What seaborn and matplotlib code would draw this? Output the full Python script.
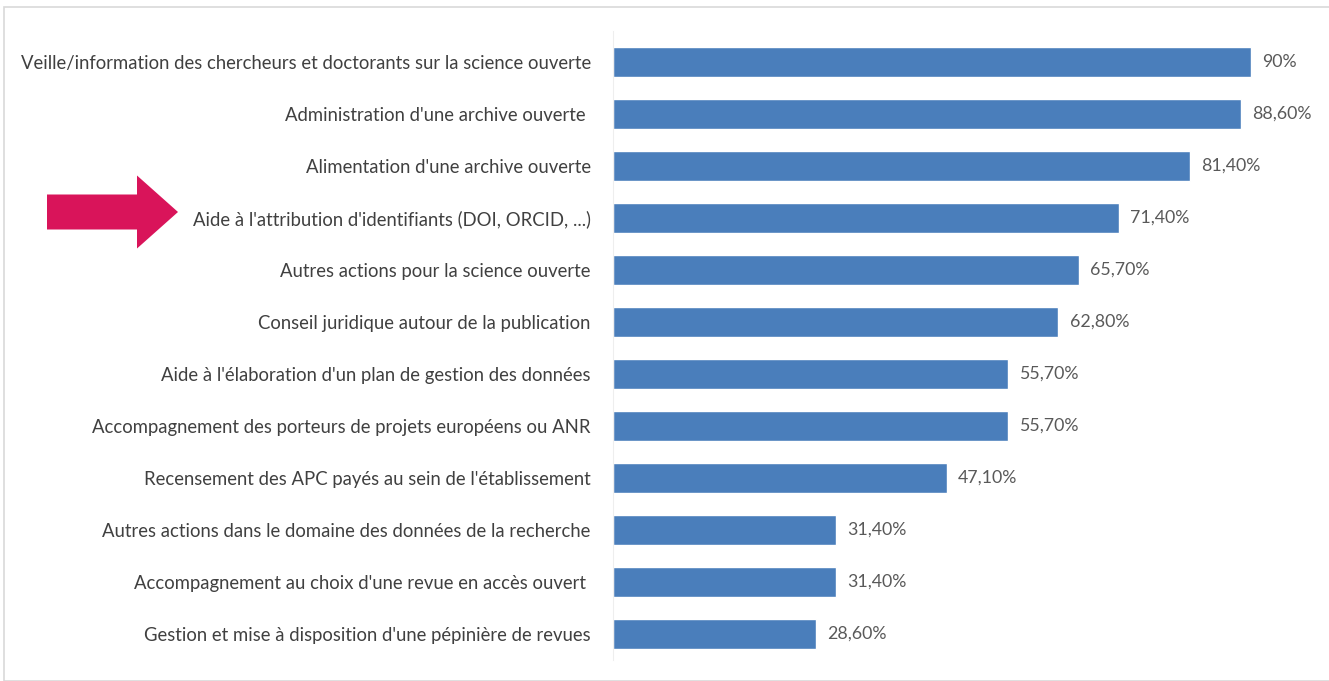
import matplotlib
matplotlib.use("Agg")
import matplotlib.pyplot as plt
import seaborn as sns
import pandas as pd
from matplotlib.patches import FancyArrow, Rectangle

# Données
actions = [
    "Veille/information des chercheurs et doctorants sur la science ouverte",
    "Administration d'une archive ouverte ",
    "Alimentation d'une archive ouverte",
    "Aide à l'attribution d'identifiants (DOI, ORCID, ...)",
    "Autres actions pour la science ouverte",
    "Conseil juridique autour de la publication",
    "Aide à l'élaboration d'un plan de gestion des données",
    "Accompagnement des porteurs de projets européens ou ANR",
    "Recensement des APC payés au sein de l'établissement",
    "Autres actions dans le domaine des données de la recherche",
    "Accompagnement au choix d'une revue en accès ouvert ",
    "Gestion et mise à disposition d'une pépinière de revues",
]
pourcentages = [90, 88.6, 81.4, 71.4, 65.7, 62.8, 55.7, 55.7, 47.1, 31.4, 31.4, 28.6]
etiquettes = ["90%", "88,60%", "81,40%", "71,40%", "65,70%", "62,80%",
              "55,70%", "55,70%", "47,10%", "31,40%", "31,40%", "28,60%"]

df = pd.DataFrame({"action": actions, "pct": pourcentages})

sns.set_style("white")
plt.rcParams["font.family"] = ["Lato", "DejaVu Sans"]

W, H = 1329, 681
fig = plt.figure(figsize=(W / 100, H / 100), dpi=100)
ax = fig.add_axes([613 / W, 0, 716 / W, 1])

sns.barplot(data=df, x="pct", y="action", orient="h", color="#4A7EBB",
            saturation=1, width=0.58, ax=ax)

ax.set_xlim(0, 716 * 90 / 638)
ax.set_ylim(11 + (H - 634) / 52, -62 / 52)

for i, (v, txt) in enumerate(zip(pourcentages, etiquettes)):
    ax.text(v + 1.6, i, txt, va="center", ha="left", fontsize=12.8, color="#595959")

ax.set_xlabel("")
ax.set_ylabel("")
ax.set_xticks([])
ax.tick_params(axis="y", length=0, pad=16, labelsize=13.35, labelcolor="#404040")
for s in ["top", "right", "bottom"]:
    ax.spines[s].set_visible(False)
ax.spines["left"].set_color("#eeeeee")
ax.spines["left"].set_bounds(-0.6, 11.5)

# cadre gris clair
fig.patches.append(Rectangle((4 / W, 0), 1.2, (H - 7) / H, transform=fig.transFigure,
                             fill=False, edgecolor="#d9d9d9", linewidth=1.2))

# flèche
fig.patches.append(FancyArrow(47 / W, (H - 212) / H, 131 / W, 0,
                              width=35 / H, head_width=73 / H, head_length=41 / W,
                              length_includes_head=True, transform=fig.transFigure,
                              color="#D9145A", linewidth=0))

fig.savefig("out.png", dpi=100)
